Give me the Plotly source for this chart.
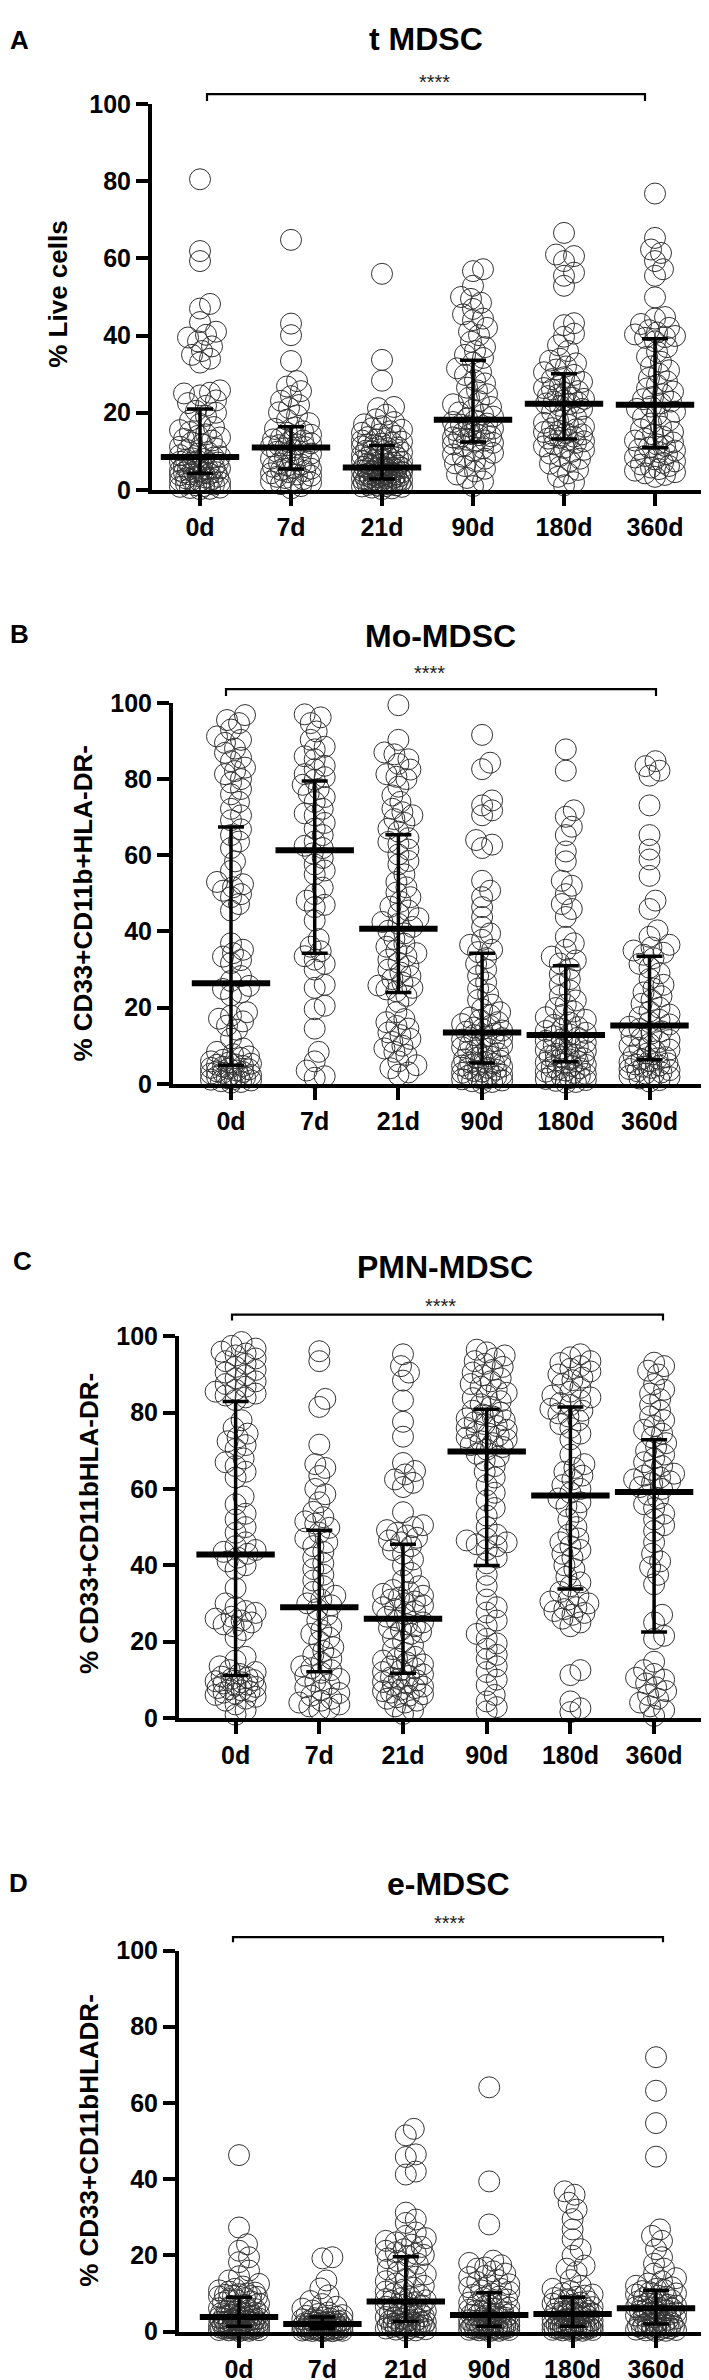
import math
import plotly.graph_objects as go

W, H = 709, 2380
categories = ["0d", "7d", "21d", "90d", "180d", "360d"]
panel_letters = ["A", "B", "C", "D"]
panel_titles = ["t MDSC", "Mo-MDSC", "PMN-MDSC", "e-MDSC"]
y_titles = ["% Live cells", "% CD33+CD11b+HLA-DR-", "% CD33+CD11bHLA-DR-", "% CD33+CD11bHLADR-"]
y_ticks = [0, 20, 40, 60, 80, 100]
sig_label = "****"

# ---------------- Panel A: t MDSC ----------------
A_0d = [80.5, 61.9, 59.3, 48.2, 47.0, 43.5, 41.0, 40.2, 39.5, 38.5, 37.2, 36.0, 35.0, 34.0, 33.0,
        25.8, 25.2, 25.0, 24.5, 23.2, 22.5, 21.8,
        20.5, 20.0, 19.2, 18.0, 17.1, 16.3, 15.5, 15.0, 14.4, 14.0, 13.6, 13.2, 12.8, 12.3, 11.8,
        11.2, 10.7, 10.3, 9.8, 9.4, 9.0, 8.7,
        8.4, 8.2, 8.0, 7.8, 7.5, 7.3, 7.1, 6.9, 6.6, 6.4, 6.2, 6.0, 5.8, 5.6, 5.4, 5.2, 5.0, 4.9,
        4.7, 4.6, 4.5, 4.4,
        4.2, 4.0, 3.8, 3.6, 3.4, 3.2, 3.0, 2.8, 2.6, 2.4, 2.2, 2.0, 1.8, 1.6, 1.4, 1.2, 1.0, 0.8,
        0.6, 0.5, 0.3, 0.2]
A_7d = [64.8, 43.1, 40.1, 33.4, 28.2, 26.8, 25.6, 24.3, 23.1, 22.0, 21.2, 20.1, 19.3, 18.2, 17.3,
        16.2, 15.8, 15.2, 14.8, 14.3, 13.9, 13.5, 13.1, 12.8, 12.4, 12.1, 11.8, 11.6, 11.3, 11.1,
        10.8, 10.3, 9.9, 9.4, 8.9, 8.5, 8.1, 7.7, 7.3, 6.9, 6.6, 6.3, 6.0, 5.7, 5.5,
        5.2, 4.9, 4.6, 4.3, 4.0, 3.7, 3.4, 3.1, 2.8, 2.5, 2.2, 1.9, 1.5, 1.0, 0.4]
A_21d = [56.0, 33.7, 28.3, 21.5, 21.2, 19.5, 18.3, 17.6, 17.0, 16.5, 16.0, 15.6, 15.2, 14.8, 14.4,
         14.0, 13.7, 13.4, 13.1, 12.8, 12.5, 12.3, 12.0, 11.8, 11.6,
         11.3, 11.0, 10.8, 10.5, 10.2, 10.0, 9.7, 9.5, 9.2, 9.0, 8.8, 8.5, 8.3, 8.1, 7.9, 7.7,
         7.5, 7.3, 7.1, 6.9, 6.7, 6.5, 6.3, 6.2, 6.0,
         5.9, 5.8, 5.7, 5.6, 5.5, 5.3, 5.2, 5.0, 4.9, 4.8, 4.6, 4.5, 4.4, 4.2, 4.1, 4.0, 3.9, 3.8,
         3.7, 3.6, 3.5, 3.4, 3.3, 3.2, 3.1,
         2.9, 2.8, 2.7, 2.6, 2.5, 2.4, 2.3, 2.2, 2.1, 2.0, 1.9, 1.8, 1.7, 1.6, 1.5, 1.4, 1.3, 1.2,
         1.1, 1.0, 0.9, 0.8, 0.6, 0.4, 0.2]
A_90d = [57.2, 56.7, 52.9, 50.0, 49.5, 48.5, 46.9, 45.5, 44.4, 44.0, 42.0, 41.0, 40.1, 38.4, 37.0,
         36.0, 35.0, 34.2,
         33.0, 31.5, 30.5, 29.8, 28.4, 27.6, 26.5, 25.8, 24.8, 23.9, 23.0, 22.2, 21.5, 20.8, 20.1,
         19.5, 19.0, 18.5,
         18.0, 17.6, 17.2, 16.9, 16.5, 16.2, 15.9, 15.5, 15.2, 14.8, 14.5, 14.2, 13.9, 13.6, 13.3,
         13.0, 12.8, 12.5,
         12.2, 11.8, 11.3, 10.8, 10.2, 9.6, 9.2, 8.6, 8.1, 7.5, 6.9, 6.2, 5.5, 4.8, 4.0, 3.1, 2.2, 1.0]
A_180d = [66.6, 61.0, 60.6, 59.3, 56.3, 55.5, 52.9, 43.2, 42.7, 40.5, 39.7, 37.5, 36.0, 34.0, 33.5,
          32.8, 32.0, 31.2, 30.5,
          29.8, 29.2, 28.7, 28.0, 27.5, 27.0, 26.4, 26.0, 25.6, 25.1, 24.7, 24.3, 23.9, 23.6, 23.2,
          22.9, 22.6, 22.4, 22.3,
          21.8, 21.0, 20.2, 19.5, 18.8, 18.0, 17.4, 16.9, 16.4, 16.0, 15.7, 15.3, 15.0, 14.7, 14.4,
          14.1, 13.8, 13.5, 13.3,
          13.0, 12.6, 12.2, 11.8, 11.3, 10.9, 10.4, 9.9, 9.4, 8.8, 8.1, 7.5, 6.8, 6.0, 5.2, 4.3, 3.4,
          2.0, 1.2]
A_360d = [76.8, 65.3, 62.3, 61.4, 59.3, 57.2, 55.5, 49.9, 44.8, 44.4, 43.0, 42.0, 41.4, 40.8, 40.3,
          39.9, 39.6, 39.4,
          38.5, 37.0, 35.8, 34.5, 33.2, 32.0, 31.0, 30.1, 29.0, 28.1, 27.2, 26.3, 25.5, 24.8, 24.1,
          23.5, 22.9, 22.4,
          21.6, 21.0, 20.3, 19.5, 18.8, 18.0, 17.2, 16.4, 15.7, 15.0, 14.4, 13.8, 13.3, 12.8, 12.3,
          11.8, 11.4, 11.0,
          10.6, 10.2, 9.8, 9.3, 8.8, 8.4, 7.9, 7.4, 7.0, 6.6, 6.2, 5.8, 5.4, 5.0, 4.6, 4.3, 3.9, 3.4]
A_median = [8.5, 11.0, 5.8, 18.2, 22.3, 22.1]
A_q1 = [4.3, 5.4, 2.8, 12.4, 13.2, 10.9]
A_q3 = [21.0, 16.4, 11.5, 33.6, 30.1, 39.2]

# ---------------- Panel B: Mo-MDSC ----------------
B_0d = [96.8, 95.5, 94.7, 93.0, 91.2, 90.3, 89.5, 88.0, 86.9, 85.6, 84.7, 83.0, 82.1, 81.3, 80.0,
        79.1, 77.4, 76.0, 74.0, 72.2, 70.5, 69.2,
        66.8, 65.3, 63.6, 61.9, 58.4, 55.9, 53.0, 52.4, 51.6, 50.7, 49.8, 49.0, 47.2, 45.5, 36.9,
        35.2, 34.3, 33.4, 32.5, 31.7, 28.3, 27.0,
        25.7, 24.9, 24.0, 23.2, 18.8, 17.9, 17.1, 16.4, 15.3, 14.2, 11.9, 9.3, 8.4, 7.8, 7.2, 6.8,
        6.3, 5.9, 5.6, 5.3, 5.1, 5.0,
        4.7, 4.5, 4.2, 4.0, 3.8, 3.5, 3.3, 3.1, 2.9, 2.7, 2.5, 2.3, 2.1, 1.9, 1.7, 1.5, 1.3, 1.1,
        0.9, 0.7, 0.5, 0.3]
B_7d = [97.0, 96.2, 94.7, 92.5, 90.3, 88.5, 87.8, 86.0, 85.2, 83.5, 82.6, 81.3, 80.5, 79.8,
        78.5, 77.4, 76.2, 75.3, 74.0, 72.2, 71.0, 70.5, 68.5, 67.0, 65.3, 63.6, 62.5, 61.9,
        60.5, 59.3, 57.6, 56.0, 55.0, 51.5, 49.8, 48.1, 47.0, 46.4, 42.9, 38.0, 36.0, 34.8,
        33.5, 32.6, 31.5, 30.0, 26.0, 25.2, 20.5, 19.6, 14.5, 8.4, 5.9, 3.5, 2.0, 1.6]
B_21d = [99.4, 90.3, 87.0, 86.5, 85.2, 84.0, 82.5, 81.3, 80.6, 80.0, 78.0, 75.7, 74.0, 72.2, 71.3,
         70.5, 69.5, 68.5, 67.0, 66.2,
         64.5, 63.5, 63.0, 61.5, 60.2, 58.5, 57.6, 55.0, 53.0, 51.6, 50.2, 49.0, 47.8, 46.5, 45.5,
         44.7, 43.5, 42.5, 42.0, 41.2,
         40.2, 39.5, 38.0, 36.8, 36.0, 35.0, 34.3, 33.5, 32.6, 31.8, 30.9, 30.0, 29.2, 28.3, 27.5,
         26.6, 25.8, 25.2, 24.8, 24.3,
         23.1, 21.5, 18.8, 17.0, 16.2, 15.2, 14.5, 13.5, 12.8, 11.8, 11.0, 10.0, 9.3, 8.4, 7.6, 5.9,
         4.9, 4.1, 3.0, 2.4]
B_90d = [91.6, 84.3, 82.6, 74.4, 73.1, 71.8, 70.5, 64.0, 62.8, 61.9, 53.3, 50.7, 49.0, 46.4, 43.8,
         41.2, 39.5, 37.8, 36.5, 35.2, 34.6,
         33.0, 31.5, 30.0, 28.3, 26.6, 25.0, 23.5, 22.0, 20.8, 19.6, 18.8, 18.0, 17.4, 16.8, 16.2,
         15.7, 15.2, 14.8, 14.4, 14.0, 13.7,
         13.2, 12.8, 12.4, 12.0, 11.6, 11.2, 10.8, 10.4, 10.0, 9.6, 9.2, 8.8, 8.4, 8.0, 7.6, 7.2,
         6.8, 6.4, 6.1, 5.8, 5.6,
         5.3, 5.0, 4.8, 4.5, 4.2, 4.0, 3.7, 3.4, 3.2, 2.9, 2.6, 2.4, 2.1, 1.9, 1.6, 1.4, 1.2, 0.9,
         0.7, 0.5, 0.2]
B_180d = [87.8, 82.2, 71.8, 70.1, 67.5, 65.3, 61.0, 58.4, 53.3, 52.0, 49.8, 47.2, 45.9, 43.8, 38.6,
          36.9, 35.2, 33.4, 32.4, 31.6,
          30.2, 28.8, 27.5, 26.0, 24.5, 23.1, 21.9, 20.8, 19.9, 19.0, 18.2, 17.5, 16.8, 16.1, 15.5,
          14.9, 14.4, 13.9, 13.4, 13.0,
          12.5, 12.1, 11.7, 11.3, 10.9, 10.5, 10.1, 9.7, 9.3, 8.9, 8.6, 8.2, 7.9, 7.6, 7.3, 7.0, 6.7,
          6.4, 6.1, 5.9,
          5.6, 5.3, 5.0, 4.7, 4.4, 4.1, 3.8, 3.5, 3.2, 2.9, 2.6, 2.3, 2.0, 1.8, 1.5, 1.3, 1.0, 0.8,
          0.5, 0.3]
B_360d = [84.7, 83.4, 82.2, 80.9, 73.1, 65.3, 61.5, 58.9, 54.6, 48.1, 45.9, 40.3, 38.6, 36.5, 35.8,
          35.0, 34.4, 33.9,
          33.0, 31.5, 30.5, 29.0, 27.5, 26.0, 25.0, 24.0, 23.0, 22.0, 21.0, 20.0, 19.0, 18.2, 17.5,
          16.8, 16.2, 15.6,
          15.0, 14.4, 13.8, 13.2, 12.6, 12.0, 11.5, 11.0, 10.5, 10.0, 9.5, 9.0, 8.5, 8.0, 7.5, 7.0,
          6.7, 6.4,
          6.0, 5.7, 5.4, 5.1, 4.8, 4.5, 4.2, 3.9, 3.6, 3.3, 3.0, 2.7, 2.4, 2.1, 1.8, 1.4, 1.0, 0.6]
B_median = [26.4, 61.3, 40.7, 13.5, 12.8, 15.3]
B_q1 = [4.9, 34.3, 24.0, 5.5, 5.8, 6.3]
B_q3 = [67.4, 79.5, 65.4, 34.3, 31.0, 33.5]

# ---------------- Panel C: PMN-MDSC ----------------
C_0d = [98.5, 97.5, 96.8, 96.0, 95.5, 95.0, 94.2, 93.5, 92.8, 92.0, 91.2, 90.5, 89.8, 89.0, 88.2,
        87.5, 86.8, 86.0, 85.5, 85.0, 84.5, 84.0, 83.3,
        78.0, 76.0, 74.5, 73.5, 72.5, 71.5, 70.5, 68.0, 67.0, 66.0, 64.5, 63.0, 58.0, 56.0, 53.5,
        52.0, 50.0, 48.5, 46.0, 45.0, 44.0, 43.5, 43.0,
        42.0, 41.0, 40.0, 39.0, 34.0, 30.0, 29.0, 28.0, 27.5, 26.5, 26.0, 25.5, 25.0, 24.5, 24.0,
        23.0, 21.0, 16.0, 15.0, 13.5, 12.5, 12.0, 11.5,
        10.8, 10.5, 10.2, 9.9, 9.6, 9.3, 9.0, 8.7, 8.4, 8.1, 7.8, 7.5, 7.2, 6.9, 6.6, 6.3, 6.0, 5.5,
        5.0, 4.5, 3.5, 2.0, 0.8]
C_7d = [96.1, 93.5, 83.6, 81.5, 71.6, 66.5, 65.5, 63.4, 60.0, 58.6, 56.5, 54.0, 52.6, 51.5, 50.9,
        49.8,
        48.5, 47.0, 46.0, 45.0, 43.5, 42.0, 40.5, 39.0, 37.5, 36.0, 34.5, 33.0, 32.0, 31.0, 30.0,
        29.5,
        28.5, 27.0, 25.5, 24.0, 23.0, 22.0, 21.0, 20.0, 18.5, 17.5, 16.5, 15.5, 14.5, 13.5, 13.0,
        12.5,
        11.8, 11.0, 10.2, 9.5, 8.8, 8.0, 7.2, 6.5, 5.8, 5.0, 4.5, 4.0, 3.5, 3.0, 2.5, 2.0]
C_21d = [95.3, 92.2, 90.5, 88.4, 83.2, 77.6, 73.7, 66.8, 64.7, 63.8, 62.5, 61.6, 60.5, 53.9, 50.5,
         50.0, 49.2, 48.5, 47.8, 47.2, 46.5, 46.0,
         45.0, 44.0, 43.0, 41.5, 40.0, 38.0, 36.0, 34.5, 33.5, 33.0, 32.5, 32.0, 31.5, 31.0, 30.5,
         30.0, 29.5, 29.0, 28.5, 28.0, 27.2, 26.5,
         25.5, 25.0, 24.5, 24.0, 23.5, 23.0, 22.5, 22.0, 21.0, 20.0, 19.0, 18.0, 17.0, 16.0, 15.5,
         15.0, 14.5, 14.0, 13.5, 13.0, 12.5, 12.0,
         11.4, 11.0, 10.6, 10.2, 9.8, 9.4, 9.0, 8.6, 8.2, 7.8, 7.4, 7.0, 6.6, 6.2, 5.8, 5.4, 5.0,
         4.5, 4.0, 3.0, 2.0, 1.0]
C_90d = [96.5, 95.8, 95.0, 94.2, 93.5, 92.8, 92.0, 91.2, 90.5, 89.8, 89.0, 88.2, 87.5, 86.8, 86.0,
         85.2, 84.5, 83.8, 83.0, 82.2, 81.5,
         80.5, 80.0, 79.5, 79.0, 78.5, 78.0, 77.5, 77.0, 76.5, 76.0, 75.5, 75.0, 74.5, 74.0, 73.5,
         73.0, 72.5, 72.0, 71.5, 71.0, 70.3,
         69.2, 68.5, 67.5, 66.0, 64.5, 63.0, 61.0, 59.0, 57.0, 55.0, 53.0, 50.0, 48.0, 47.0, 46.5,
         46.0, 45.5, 45.0, 44.0, 42.0, 40.5,
         37.5, 34.5, 31.0, 29.0, 27.6, 25.5, 24.1, 22.0, 20.7, 19.5, 18.1, 16.5, 15.5, 13.5, 12.0,
         10.0, 8.6, 6.0, 4.3, 2.8, 1.7]
C_180d = [95.3, 94.5, 93.5, 93.0, 92.2, 91.5, 90.8, 90.0, 89.2, 88.5, 87.5, 86.5, 85.5, 84.5, 84.0,
          83.2, 82.5, 82.0,
          81.0, 80.5, 79.8, 79.0, 78.0, 77.0, 76.0, 74.5, 73.0, 69.0, 66.5, 65.5, 64.5, 63.5, 62.5,
          61.0, 60.0, 59.0,
          57.5, 56.5, 55.5, 54.0, 52.0, 50.0, 48.0, 47.0, 46.0, 45.0, 44.0, 43.0, 42.0, 40.0, 39.0,
          37.0, 35.5, 34.5,
          33.0, 32.0, 31.0, 30.5, 30.0, 29.0, 28.5, 28.0, 27.5, 27.0, 26.0, 25.0, 24.0, 12.5, 11.2,
          4.3, 2.5, 1.5]
C_360d = [93.1, 92.2, 91.0, 90.0, 87.5, 86.0, 85.0, 83.5, 82.0, 80.5, 79.0, 78.0, 76.5, 75.5, 74.5,
          73.5,
          72.0, 71.0, 70.0, 69.0, 68.0, 67.0, 66.0, 65.0, 64.0, 63.5, 63.0, 62.5, 62.0, 61.5, 60.5,
          60.0,
          58.5, 57.5, 56.0, 55.0, 53.5, 52.0, 50.5, 49.0, 46.0, 43.0, 41.0, 39.5, 37.5, 35.0, 27.0,
          25.0,
          21.5, 20.7, 14.7, 12.5, 11.5, 10.5, 10.0, 9.0, 8.0, 7.0, 6.0, 5.0, 4.0, 3.0, 2.0, 0.5]
C_median = [42.8, 29.0, 26.0, 69.8, 58.3, 59.2]
C_q1 = [11.1, 12.1, 11.7, 39.9, 33.8, 22.5]
C_q3 = [82.9, 49.2, 45.5, 80.9, 81.5, 72.9]

# ---------------- Panel D: e-MDSC ----------------
D_0d = [46.3, 27.3, 22.9, 21.2, 19.5, 18.2, 16.0, 14.5, 13.4, 12.5, 11.8, 11.2, 10.8, 10.5, 10.2,
        10.0, 9.8, 9.6, 9.4, 9.3, 9.2, 9.1,
        8.8, 8.5, 8.2, 7.9, 7.6, 7.3, 7.0, 6.7, 6.4, 6.1, 5.9, 5.6, 5.4, 5.2, 5.0, 4.8, 4.6, 4.4,
        4.2, 4.1, 4.0, 3.9,
        3.7, 3.6, 3.5, 3.4, 3.3, 3.2, 3.1, 3.0, 2.9, 2.8, 2.7, 2.6, 2.5, 2.4, 2.3, 2.2, 2.1, 2.0,
        1.9, 1.8, 1.6, 1.5,
        1.35, 1.3, 1.25, 1.2, 1.15, 1.1, 1.05, 1.0, 0.95, 0.9, 0.85, 0.8, 0.75, 0.7, 0.6, 0.55, 0.5,
        0.4, 0.35, 0.3, 0.2, 0.1]
D_7d = [19.5, 19.2, 13.4, 11.3, 9.5, 8.0, 7.2, 6.5, 6.0, 5.5, 5.0, 4.6, 4.3, 4.1, 3.9,
        3.7, 3.5, 3.4, 3.2, 3.0, 2.9, 2.8, 2.7, 2.6, 2.5, 2.4, 2.3, 2.2, 2.1, 2.05,
        1.95, 1.9, 1.8, 1.7, 1.6, 1.5, 1.45, 1.4, 1.3, 1.2, 1.1, 1.0, 0.95, 0.9, 0.85,
        0.75, 0.7, 0.65, 0.6, 0.55, 0.5, 0.45, 0.4, 0.35, 0.3, 0.25, 0.2, 0.15, 0.1, 0.05]
D_21d = [53.2, 51.5, 46.5, 45.8, 42.0, 41.2, 31.2, 29.4, 28.5, 26.0, 25.1, 24.5, 23.8, 23.4, 22.8,
         22.2, 21.6, 21.2, 20.8, 20.4, 20.1, 19.8,
         19.2, 18.5, 17.8, 17.0, 16.3, 15.6, 15.0, 14.4, 13.8, 13.2, 12.6, 12.0, 11.5, 11.0, 10.5,
         10.0, 9.6, 9.2, 8.8, 8.5, 8.2, 8.0,
         7.7, 7.4, 7.1, 6.8, 6.5, 6.2, 5.9, 5.6, 5.3, 5.0, 4.8, 4.6, 4.4, 4.2, 4.0, 3.8, 3.6, 3.4,
         3.2, 3.0, 2.8, 2.7,
         2.5, 2.4, 2.3, 2.2, 2.1, 2.0, 1.9, 1.8, 1.7, 1.6, 1.5, 1.4, 1.3, 1.2, 1.1, 1.0, 0.9, 0.8,
         0.6, 0.5, 0.3, 0.2]
D_90d = [64.1, 39.4, 28.1, 18.6, 18.0, 17.4, 16.8, 16.5, 15.8, 15.2, 14.6, 14.3, 13.6, 13.0, 12.4,
         12.1, 11.6, 11.2, 10.8, 10.4,
         10.0, 9.6, 9.2, 8.8, 8.4, 8.0, 7.6, 7.2, 6.9, 6.6, 6.3, 6.0, 5.7, 5.4, 5.2, 5.0, 4.8, 4.6,
         4.5, 4.4,
         4.2, 4.0, 3.8, 3.6, 3.4, 3.2, 3.0, 2.9, 2.8, 2.6, 2.5, 2.4, 2.2, 2.1, 2.0, 1.9, 1.8, 1.7,
         1.6, 1.5,
         1.35, 1.3, 1.25, 1.2, 1.15, 1.1, 1.0, 0.95, 0.9, 0.85, 0.8, 0.7, 0.65, 0.6, 0.5, 0.45, 0.4,
         0.3, 0.2, 0.1]
D_180d = [36.8, 35.9, 33.8, 32.0, 29.5, 26.8, 24.2, 21.6, 19.9, 17.3, 16.5, 15.6, 13.5, 12.0, 11.2,
          10.6, 10.1, 9.7, 9.4, 9.1,
          8.8, 8.5, 8.2, 7.9, 7.6, 7.3, 7.0, 6.7, 6.4, 6.2, 6.0, 5.8, 5.6, 5.4, 5.2, 5.0, 4.9, 4.8,
          4.7, 4.65,
          4.5, 4.3, 4.1, 3.9, 3.7, 3.5, 3.3, 3.1, 2.9, 2.7, 2.6, 2.4, 2.3, 2.2, 2.0, 1.9, 1.8, 1.7,
          1.6, 1.5,
          1.35, 1.3, 1.25, 1.2, 1.1, 1.05, 1.0, 0.95, 0.9, 0.85, 0.8, 0.7, 0.65, 0.6, 0.5, 0.45, 0.4,
          0.3, 0.2, 0.1]
D_360d = [72.0, 63.2, 54.7, 45.9, 26.8, 25.1, 23.8, 21.6, 19.5, 17.8, 16.5, 15.2, 14.0, 13.2, 12.6,
          12.0, 11.6, 11.2, 10.9,
          10.6, 10.3, 10.0, 9.7, 9.4, 9.1, 8.8, 8.5, 8.2, 7.9, 7.6, 7.4, 7.2, 7.0, 6.8, 6.6, 6.4,
          6.3, 6.2,
          6.0, 5.8, 5.6, 5.4, 5.2, 5.0, 4.8, 4.6, 4.4, 4.2, 4.0, 3.7, 3.4, 3.1, 2.8, 2.6, 2.4, 2.2,
          2.1,
          1.9, 1.8, 1.7, 1.6, 1.5, 1.4, 1.3, 1.2, 1.1, 1.0, 0.9, 0.8, 0.7, 0.6, 0.5, 0.4, 0.3, 0.2,
          0.1]
D_median = [3.8, 2.0, 7.9, 4.3, 4.6, 6.1]
D_q1 = [1.4, 0.8, 2.6, 1.4, 1.4, 2.0]
D_q3 = [9.0, 3.8, 19.6, 10.2, 9.0, 10.8]

panel_groups = [
    [A_0d, A_7d, A_21d, A_90d, A_180d, A_360d],
    [B_0d, B_7d, B_21d, B_90d, B_180d, B_360d],
    [C_0d, C_7d, C_21d, C_90d, C_180d, C_360d],
    [D_0d, D_7d, D_21d, D_90d, D_180d, D_360d],
]
panel_stats = [
    (A_median, A_q1, A_q3),
    (B_median, B_q1, B_q3),
    (C_median, C_q1, C_q3),
    (D_median, D_q1, D_q3),
]

# ---------------- layout geometry (pixels) ----------------
# y-axis x, first category x, category spacing, x-axis end, y(100), y(0)
geom = [
    (144, 192.0, 91.0, 694, 83.0, 473.5),
    (165, 223.0, 83.7, 701, 689.0, 1074.5),
    (171, 227.6, 83.7, 703.6, 1330.0, 1716.0),
    (171, 231.0, 83.4, 706, 1951.5, 2337.0),
]
letter_pos = [(11, 18), (11, 619), (14, 1254), (10, 1883)]
title_pos = [(418, 17), (432, 621), (437, 1260), (440, 1884)]
ytitle_pos = [(50, 276), (75, 892), (81, 1520), (81, 2144)]
star_pos = [(427, 61), (421, 659), (432, 1299), (441, 1924)]
bracket_pos = [(199, 637, 73, 80), (218, 648, 675, 682), (224, 655, 1308, 1314), (225, 655, 1938, 1943)]


def px(x):
    return x / W


def py(y):
    return 1 - y / H


def swarm_offsets(values, px_per_unit, px_per_cat, min_d=10.0, step=2.0, max_off=20.0):
    n = len(values)
    order = sorted(range(n), key=lambda i: values[i])
    placed = []
    offs = [0.0] * n
    cands = [0.0]
    k = 1
    while k * step <= max_off:
        cands += [k * step, -k * step]
        k += 1
    for i in order:
        yv = values[i] * px_per_unit
        best_c, best_d = 0.0, -1.0
        for c in cands:
            d = 1e9
            for (qx, qy) in placed:
                if abs(yv - qy) < min_d:
                    d = min(d, math.hypot(c - qx, yv - qy))
            if d >= min_d:
                best_c = c
                break
            if d > best_d:
                best_c, best_d = c, d
        placed.append((best_c, yv))
        offs[i] = best_c / px_per_cat
    return offs


FONT = "Liberation Sans, Arial, sans-serif"
fig = go.Figure()
shapes = []
annotations = []
layout_axes = {}

for p in range(4):
    yx, c0, cstep, xend, y100, y0 = geom[p]
    ppu = (y0 - y100) / 100.0
    xn = "" if p == 0 else str(p + 1)
    xref = "x" + xn
    yref = "y" + xn
    rmin = (yx - c0) / cstep
    rmax = (xend - c0) / cstep

    xs, ys = [], []
    for gi, vals in enumerate(panel_groups[p]):
        offs = swarm_offsets(vals, ppu, cstep)
        xs += [gi + o for o in offs]
        ys += list(vals)
    fig.add_trace(go.Scatter(
        x=xs, y=ys, xaxis=xref, yaxis=yref, mode="markers", cliponaxis=False,
        marker=dict(symbol="circle-open", size=21, color="#333333", line=dict(width=1)),
        showlegend=False, hoverinfo="skip"))

    med, q1, q3 = panel_stats[p]
    fig.add_trace(go.Scatter(
        x=list(range(len(categories))), y=med, xaxis=xref, yaxis=yref, mode="markers",
        cliponaxis=False,
        marker=dict(symbol="line-ew", size=56, color="black", line=dict(width=6, color="black")),
        error_y=dict(type="data", symmetric=False,
                     array=[b - a for a, b in zip(med, q3)],
                     arrayminus=[a - b for a, b in zip(med, q1)],
                     color="black", thickness=3.5, width=13),
        showlegend=False, hoverinfo="skip"))

    layout_axes["xaxis" + xn] = dict(
        domain=[px(yx), px(xend)], range=[rmin, rmax], anchor=yref,
        tickmode="array", tickvals=list(range(len(categories))), ticktext=categories,
        showline=True, linewidth=4, linecolor="black", ticks="outside", ticklen=12,
        tickwidth=4, tickcolor="black", showgrid=False, zeroline=False,
        tickfont=dict(family=FONT, size=25, color="black", weight="bold"))
    layout_axes["yaxis" + xn] = dict(
        domain=[py(y0), py(y100)], range=[0, 100], anchor=xref,
        tickmode="array", tickvals=y_ticks,
        showline=True, linewidth=4, linecolor="black", ticks="outside", ticklen=12,
        tickwidth=4, tickcolor="black", showgrid=False, zeroline=False,
        tickfont=dict(family=FONT, size=25, color="black", weight="bold"))

    lx, ly = letter_pos[p]
    annotations.append(dict(text="<b>%s</b>" % panel_letters[p], x=px(lx), y=py(ly),
                            xref="paper", yref="paper", showarrow=False, xanchor="center",
                            yanchor="middle", font=dict(family=FONT, size=26, color="black")))
    tx, ty = title_pos[p]
    annotations.append(dict(text="<b>%s</b>" % panel_titles[p], x=px(tx), y=py(ty),
                            xref="paper", yref="paper", showarrow=False, xanchor="center",
                            yanchor="middle", font=dict(family=FONT, size=32, color="black")))
    ax_, ay_ = ytitle_pos[p]
    annotations.append(dict(text="<b>%s</b>" % y_titles[p], x=px(ax_), y=py(ay_),
                            xref="paper", yref="paper", showarrow=False, xanchor="center",
                            yanchor="middle", textangle=-90,
                            font=dict(family=FONT, size=26, color="black")))
    sx, sy = star_pos[p]
    annotations.append(dict(text=sig_label, x=px(sx), y=py(sy), xref="paper", yref="paper",
                            showarrow=False, xanchor="center", yanchor="middle",
                            font=dict(family=FONT, size=20, color="#222222")))
    bx0, bx1, byl, byt = bracket_pos[p]
    shapes.append(dict(type="path", xref="paper", yref="paper",
                       path="M %f,%f L %f,%f L %f,%f L %f,%f" % (
                           px(bx0), py(byt), px(bx0), py(byl), px(bx1), py(byl), px(bx1), py(byt)),
                       line=dict(color="black", width=2.2)))

fig.update_layout(
    width=W, height=H, margin=dict(l=0, r=0, t=0, b=0),
    paper_bgcolor="white", plot_bgcolor="white",
    shapes=shapes, annotations=annotations, showlegend=False,
    **layout_axes)

fig.write_html("out.html")
